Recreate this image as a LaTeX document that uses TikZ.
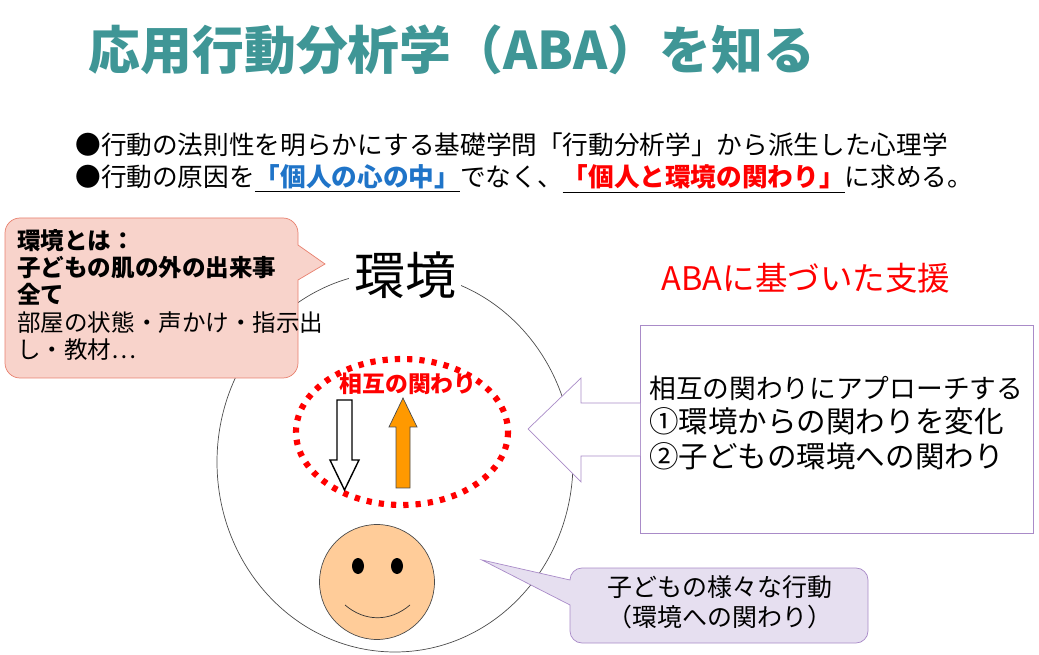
\documentclass[tikz,border=0pt]{standalone}
\usepackage{fontspec}
\setmainfont{Noto Sans CJK JP}
\usepackage{tikz}
\usetikzlibrary{positioning}
\definecolor{titleteal}{HTML}{3F9696}
\definecolor{pinkfill}{HTML}{F8D3CB}
\definecolor{pinkline}{HTML}{E8806E}
\definecolor{lilac}{HTML}{A98BC8}
\definecolor{lilacfill}{HTML}{E6DFF0}
\definecolor{skin}{HTML}{FFCC99}
\definecolor{arrorange}{HTML}{FF9900}
\definecolor{ublue}{HTML}{1F74C8}
\tikzset{
  txt/.style={inner sep=0pt, anchor=west, font=\fontsize{14.6}{17}\selectfont},
  boxtxt/.style={inner sep=0pt, align=left, anchor=north west}
}
\begin{document}
\begin{tikzpicture}[x=0.02cm, y=-0.02cm]
        \useasboundingbox (0,0) rectangle (1039,655);
        % title and bullets
        \node[font=\fontsize{29.5}{34}\selectfont\bfseries, text=titleteal] (title) at (452,50) {応用行動分析学（ABA）を知る};
        \node[txt] (bulA) at (75,145) {●行動の法則性を明らかにする基礎学問「行動分析学」から派生した心理学};
        \node[txt] (bulB) at (75,179) {●行動の原因を\underline{\textcolor{ublue}{\bfseries「個人の心の中」}}でなく、\underline{\textcolor{red}{\bfseries「個人と環境の関わり」}}に求める。};
        % environment
        \draw[black!70, thin] (395,462) ellipse (178 and 190);
        \node[fill=white, inner sep=3pt, font=\fontsize{29}{34}\selectfont] (env) at (405,275) {環境};
        \node[text=red, font=\fontsize{18.5}{22}\selectfont] (ABA) at (806,278) {ABAに基づいた支援};
        % pink callout
        \draw[pinkline, fill=pinkfill] (20,218) -- (283,218) arc (-90:0:15) -- (298,245) -- (325,264) -- (298,280)
            -- (298,363) arc (0:90:15) -- (20,378) arc (90:180:15) -- (5,233) arc (180:270:15) -- cycle;
        \node[boxtxt, font=\fontsize{13.4}{16.5}\selectfont] (envdef) at (17,229)
            {\bfseries 環境とは：\\[-1pt]\bfseries 子どもの肌の外の出来事\\[-1pt]\bfseries 全て\\[-1pt]部屋の状態・声かけ・指示出\\[-1pt]し・教材…};
        % mutual relation
        \draw[red, line width=3.5pt, dash pattern=on 3pt off 4pt] (402,432) ellipse (106 and 73);
        \node[text=red, font=\fontsize{13}{15}\selectfont\bfseries] (mutual) at (408,384) {相互の関わり};
        \draw[black, thick, fill=white] (337,400) -- (352,400) -- (352,460) -- (359,460) -- (344.5,490)
            -- (330,460) -- (337,460) -- cycle;
        \draw[black!70, fill=arrorange] (396,488) -- (410,488) -- (410,427) -- (417,427) -- (403,398)
            -- (389,427) -- (396,427) -- cycle;
        % child
        \node[circle, draw=black!70, fill=skin, minimum size=2.3cm, inner sep=0pt] (face) at (377,582) {};
        \fill (358,566) ellipse (6 and 8);
        \fill (397,566) ellipse (6 and 8);
        \draw[black!80] (345,605) .. controls (365,622) and (390,622) .. (410,605);
        % approach box with arrow
        \draw[lilac, fill=white] (640,325) rectangle (1033,533);
        \draw[lilac, fill=white] (640,403) -- (581,403) -- (581,378) -- (528,429) -- (581,482) -- (581,456) -- (640,456);
        \node[boxtxt, font=\fontsize{15.2}{18}\selectfont] (approach) at (649,376) {相互の関わりにアプローチする};
        \node[boxtxt, font=\fontsize{16.8}{20}\selectfont] (steps) at (649,407) {①環境からの関わりを変化\\②子どもの環境への関わり};
        % behaviour callout
        \draw[lilac, fill=lilacfill] (582,568) -- (856,568) arc (-90:0:12) -- (868,631) arc (0:90:12) -- (582,643)
            arc (90:180:12) -- (570,605) -- (482,560) -- (570,580) -- (570,580) arc (180:270:12) -- cycle;
        \node[align=center, inner sep=0pt, font=\fontsize{14.2}{17}\selectfont] (behave) at (720,602) {子どもの様々な行動\\（環境への関わり）};
\end{tikzpicture}
\end{document}
